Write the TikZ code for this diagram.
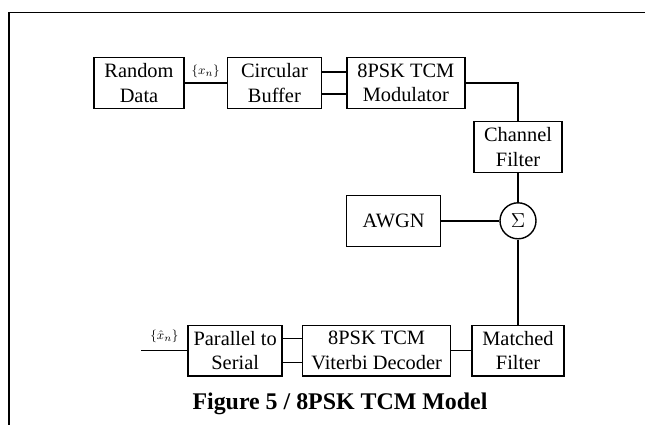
\documentclass[tikz,border=0pt]{standalone}
\usepackage{fontspec}
\setmainfont{Liberation Serif}
\usetikzlibrary{positioning}

\begin{document}
\begin{tikzpicture}[
    line width=1pt,
    every node/.style={font=\fontsize{14.5}{17.5}\selectfont},
    block/.style={draw, align=center, minimum height=1.27cm, minimum width=#1, inner sep=2pt},
    block/.default=2.3cm,
    sumnode/.style={draw, circle, minimum size=0.9cm, inner sep=0pt},
    seqlabel/.style={font=\fontsize{9.5}{11}\selectfont, inner sep=1pt}
]

% Page frame
\useasboundingbox (0,0) rectangle (16.125,-10.625);
\draw (0.23,-10.625) -- (0.23,-0.31) -- (16.125,-0.31);

% Nodes
\node[block=2.25cm] (rand) at (3.475,-2.075) {Random\\Data};
\node[block=2.35cm, right=1.05cm of rand] (buf) {Circular\\Buffer};
\node[block=2.95cm, right=0.6cm of buf] (mod) {8PSK TCM\\Modulator};

\node[block=2.2cm] (chan) at (12.95,-3.675) {Channel\\Filter};
\node[sumnode, below=0.725cm of chan] (sum) {$\Sigma$};
\node[block=2.35cm, left=1.45cm of sum] (awgn) {AWGN};

\node[block=2.3cm, below=2.125cm of sum] (mf) {Matched\\Filter};
\node[block=3.7cm, left=0.5cm of mf] (vit) {8PSK TCM\\Viterbi Decoder};
\node[block=2.35cm, left=0.475cm of vit] (p2s) {Parallel to\\Serial};
\coordinate[left=1.15cm of p2s] (out);

\node[font=\bfseries\fontsize{17}{20}\selectfont] (caption) at (8.5,-10.1) {Figure 5 / 8PSK TCM Model};

% Transmitter chain
\draw (rand) -- node[above=2pt, seqlabel] {$\{x_n\}$} (buf);
\draw ([yshift=0.27cm]buf.east) -- ([yshift=0.27cm]mod.west);
\draw ([yshift=-0.27cm]buf.east) -- ([yshift=-0.27cm]mod.west);
\draw (mod.east) -| (chan.north);

% Channel and noise
\draw (chan) -- (sum);
\draw (awgn) -- (sum);
\draw (sum) -- (mf);

% Receiver chain
\draw (mf) -- (vit);
\draw ([yshift=0.3cm]vit.west) -- ([yshift=0.3cm]p2s.east);
\draw ([yshift=-0.3cm]vit.west) -- ([yshift=-0.3cm]p2s.east);
\draw (p2s) -- node[above=4pt, seqlabel] {$\{\hat{x}_n\}$} (out);

\end{tikzpicture}
\end{document}
